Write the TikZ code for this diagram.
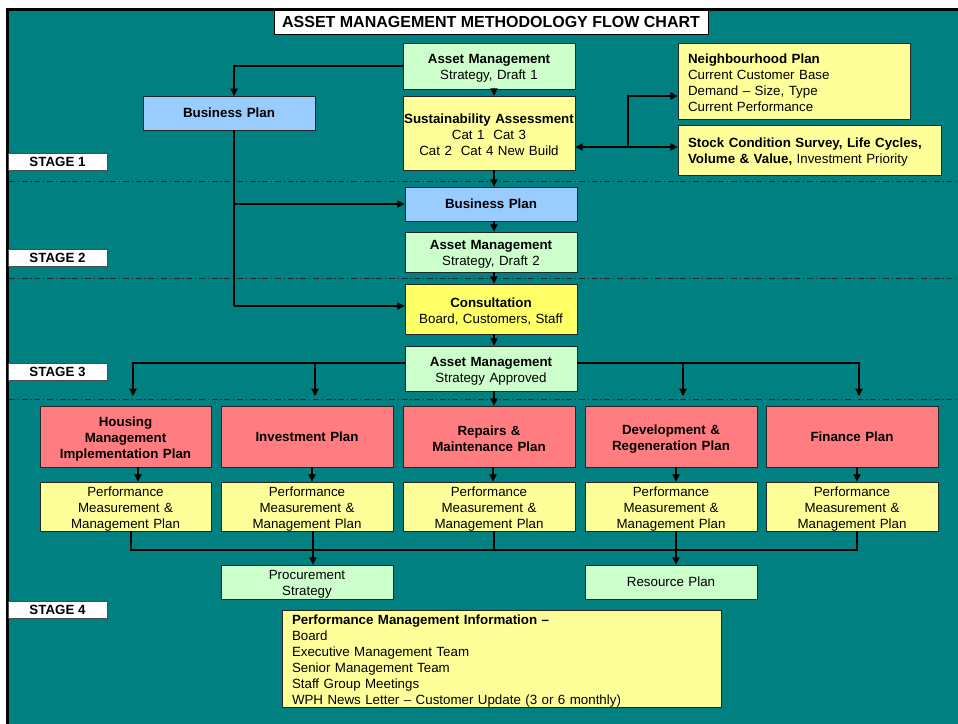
\documentclass[tikz,border=0pt]{standalone}
\usepackage{fontspec}
\setmainfont{Liberation Sans}
\usetikzlibrary{arrows.meta}
\definecolor{tealbg}{HTML}{008080}
\definecolor{lgreen}{HTML}{CCFFCC}
\definecolor{lblue}{HTML}{99CCFF}
\definecolor{lyellow}{HTML}{FFFF99}
\definecolor{byellow}{HTML}{FFFF66}
\definecolor{lred}{HTML}{FF7C80}
\begin{document}
\begin{tikzpicture}[x=0.75pt,y=-0.75pt,
  box/.style={draw=black!85, line width=0.6pt, inner sep=0pt, align=center,
    font=\fontsize{10}{12}\selectfont},
  mline/.style={execute at begin node={\rule{0pt}{10.4pt}}},
  lbox/.style={box, mline, align=left, inner xsep=7.5pt, inner ysep=0pt},
  stagebox/.style={box, fill=white, draw=black!70, minimum width=74.25pt, minimum height=12.75pt,
    font=\fontsize{10}{12}\selectfont\bfseries},
  colbox/.style={box, minimum width=129pt, text width=126pt},
  ln/.style={line width=0.9pt, black},
  arr/.style={ln, -{Triangle[length=5.5pt,width=5.5pt]}},
  darr/.style={ln, {Triangle[length=5.5pt,width=5.5pt]}-{Triangle[length=5.5pt,width=5.5pt]}},
  dd/.style={line width=0.6pt, black!85, dash pattern=on 4.5pt off 2pt on 1pt off 2pt}
]
\useasboundingbox (0,0) rectangle (958,724);
\fill[white] (0,0) rectangle (958,724);
\fill[black] (6,8) rectangle (958,724);
\fill[tealbg] (9,11) rectangle (958,724);

% separators
\draw[dd] (9,181) -- (958,181);
\draw[dd] (9,278) -- (958,278);
\draw[dd] (9,399) -- (958,399);

% title
\node[box, fill=white, draw=black, minimum width=325.5pt, minimum height=18pt,
  font=\fontsize{12}{14}\selectfont\bfseries] (title) at (491,22) {ASSET MANAGEMENT METHODOLOGY FLOW CHART};

% stage labels
\node[stagebox] (st1) at (57.5,161.5) {STAGE 1};
\node[stagebox] (st2) at (57.5,257.5) {STAGE 2};
\node[stagebox] (st3) at (57.5,371.5) {STAGE 3};
\node[stagebox] (st4) at (57.5,609.5) {STAGE 4};

% stage 1
\node[colbox, mline, fill=lgreen, minimum height=34.5pt] (am1) at (489,66) {\textbf{Asset Management}\\Strategy, Draft 1};
\node[colbox, mline, fill=lyellow, minimum height=55.5pt] (sus) at (489,133) {\makebox[126pt][c]{\textbf{Sustainability Assessment}}\\Cat 1~~Cat 3\\Cat 2~~Cat 4 New Build};
\node[colbox, fill=lblue, minimum height=25.5pt, font=\fontsize{10}{12}\selectfont\bfseries] (bp1) at (229,113) {Business Plan};
\node[lbox, fill=lyellow, text width=159pt, minimum height=57pt] (nbh) at (794,81) {\textbf{Neighbourhood Plan}\\Current Customer Base\\Demand -- Size, Type\\Current Performance};
\node[lbox, fill=lyellow, text width=182.25pt, minimum height=37.5pt] (stock) at (809.5,150) {\textbf{Stock Condition Survey, Life Cycles,}\\\textbf{Volume \& Value,} Investment Priority};

% stage 2
\node[colbox, fill=lblue, minimum height=25.5pt, font=\fontsize{10}{12}\selectfont\bfseries] (bp2) at (491,204) {Business Plan};
\node[colbox, mline, fill=lgreen, minimum height=30pt] (am2) at (491,252) {\textbf{Asset Management}\\Strategy, Draft 2};

% stage 3
\node[colbox, mline, fill=byellow, minimum height=37.5pt] (cons) at (491,309) {\textbf{Consultation}\\Board, Customers, Staff};
\node[colbox, mline, fill=lgreen, minimum height=33.75pt] (amA) at (491,368.5) {\textbf{Asset Management}\\Strategy Approved};

% stage 4 plans
\begin{scope}[every node/.append style={colbox, fill=lred, minimum height=45.75pt, font=\fontsize{10}{12}\selectfont\bfseries}]
\node[mline, minimum width=128.25pt] (r1) at (125.5,436.5) {Housing\\Management\\Implementation Plan};
\node (r2) at (307,436.5) {Investment Plan};
\node[mline] (r3) at (489,436.5) {Repairs \&\\Maintenance Plan};
\node[mline] (r4) at (671,436.5) {Development \&\\Regeneration Plan};
\node (r5) at (852,436.5) {Finance Plan};
\end{scope}
\begin{scope}[every node/.append style={colbox, mline, fill=lyellow, minimum height=36.75pt}]
\node[minimum width=128.25pt] (y1) at (125.5,506.5) {Performance\\Measurement \&\\Management Plan};
\node (y2) at (307,506.5) {Performance\\Measurement \&\\Management Plan};
\node (y3) at (489,506.5) {Performance\\Measurement \&\\Management Plan};
\node (y4) at (671,506.5) {Performance\\Measurement \&\\Management Plan};
\node (y5) at (852,506.5) {Performance\\Measurement \&\\Management Plan};
\end{scope}
\node[colbox, mline, fill=lgreen, minimum height=25.5pt] (proc) at (307,582) {Procurement\\Strategy};
\node[colbox, fill=lgreen, minimum height=25.5pt] (res) at (671,582) {Resource Plan};
\node[lbox, fill=lyellow, text width=314.25pt, minimum height=72pt] (pmi) at (501.5,659) {\textbf{Performance Management Information --}\\Board\\Executive Management Team\\Senior Management Team\\Staff Group Meetings\\WPH News Letter -- Customer Update (3 or 6 monthly)};

% ---- connectors ----
\coordinate (mx) at (494,0);
\coordinate (T1) at (234,96);
\coordinate (L1) at (234,130);
\coordinate (L2) at (234,204);
\coordinate (L3) at (234,306);
\draw[arr] (am1.west) -| (T1);
\draw[ln] (L1) -- (L3);
\draw[arr] (L2) -- (bp2.west);
\draw[arr] (L3) -- (cons.west |- L3);

\draw[arr] (am1.south -| mx) -- (sus.north -| mx);
\draw[arr] (sus.south -| mx) -- (bp2.north -| mx);
\draw[arr] (bp2.south -| mx) -- (am2.north -| mx);
\draw[arr] (am2.south -| mx) -- (cons.north -| mx);
\draw[arr] (cons.south -| mx) -- (amA.north -| mx);
\draw[arr] (amA.south -| mx) -- (r3.north -| mx);

\coordinate (D) at (0,147);
\coordinate (J) at (628,147);
\coordinate (N) at (0,96);
\draw[darr] (sus.east |- D) -- (stock.west |- D);
\draw[arr] (J) |- (nbh.west |- N);

\coordinate (F) at (0,363);
\coordinate (A2) at (315,363);
\coordinate (A3) at (683,363);
\coordinate (E1) at (133,396);
\coordinate (E2) at (315,396);
\coordinate (E3) at (683,396);
\coordinate (E4) at (859,396);
\draw[arr] (amA.west |- F) -| (E1);
\draw[arr] (A2) -- (E2);
\draw[arr] (amA.east |- F) -| (E4);
\draw[arr] (A3) -- (E3);

\coordinate (x1) at (138,0);
\coordinate (x2) at (312,0);
\coordinate (x3) at (493,0);
\coordinate (x4) at (676,0);
\coordinate (x5) at (857,0);
\foreach \i in {1,...,5}{
  \draw[arr] (r\i.south -| x\i) -- (y\i.north -| x\i);
}

\coordinate (b1) at (131,550);
\coordinate (b2) at (313,550);
\coordinate (b3) at (494,550);
\coordinate (b4) at (676,550);
\coordinate (b5) at (857,550);
\draw[ln] (y1.south -| b1) -- (b1) -- (b5) -- (y5.south -| b5);
\draw[ln] (y3.south -| b3) -- (b3);
\draw[arr] (y2.south -| b2) -- (proc.north -| b2);
\draw[arr] (y4.south -| b4) -- (res.north -| b4);
\end{tikzpicture}
\end{document}
